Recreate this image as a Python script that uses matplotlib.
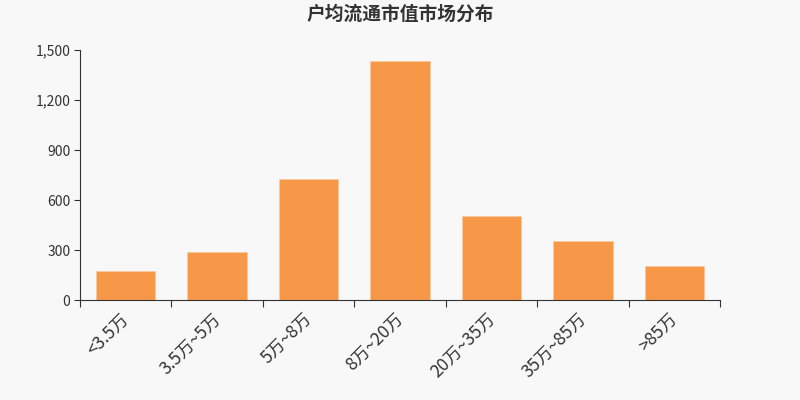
import numpy as np
import matplotlib.pyplot as plt
import matplotlib.transforms as mtransforms

plt.rcParams['font.family'] = ['Noto Sans CJK SC', 'DejaVu Sans']

categories = ['<3.5万', '3.5万~5万', '5万~8万', '8万~20万', '20万~35万', '35万~85万', '>85万']
values = [175, 290, 725, 1435, 505, 355, 205]
yticks = [0, 300, 600, 900, 1200, 1500]

bg = '#f8f8f8'
fig = plt.figure(figsize=(8, 4), dpi=100, facecolor=bg)
ax = fig.add_axes([0.1, 0.25, 0.8, 0.625], facecolor=bg)

x = np.arange(len(categories))
ax.bar(x, values, width=0.65, color='#f79848', edgecolor='#fbc9a0', linewidth=0.6)

ax.set_xlim(-0.5, len(categories) - 0.5)
ax.set_ylim(0, 1500)
ax.set_yticks(yticks)
ax.set_yticklabels([f'{v:,}' for v in yticks], fontsize=10, color='#333333')

# boundary ticks between categories, labels at the centres
ax.set_xticks(np.arange(len(categories) + 1) - 0.5)
ax.set_xticklabels([])
ax.set_xticks(x, minor=True)
ax.set_xticklabels(categories, minor=True, rotation=45, ha='right',
                   rotation_mode='anchor', fontsize=12.5, color='#333333')
ax.tick_params(axis='x', which='minor', length=0, pad=7)
ax.tick_params(axis='x', which='major', length=5, color='#333333')
ax.tick_params(axis='y', length=4, color='#333333', pad=3)

shift = mtransforms.ScaledTranslation(-4 / 72, 0, fig.dpi_scale_trans)
for lbl in ax.get_xticklabels(minor=True):
    lbl.set_transform(lbl.get_transform() + shift)

for side in ['top', 'right']:
    ax.spines[side].set_visible(False)
for side in ['left', 'bottom']:
    ax.spines[side].set_color('#333333')
    ax.spines[side].set_linewidth(0.8)

fig.text(0.5, 0.965, '户均流通市值市场分布', ha='center', va='center',
         fontsize=13.5, fontweight='bold', color='#333333')

fig.savefig('out.png', dpi=100, facecolor=bg)
